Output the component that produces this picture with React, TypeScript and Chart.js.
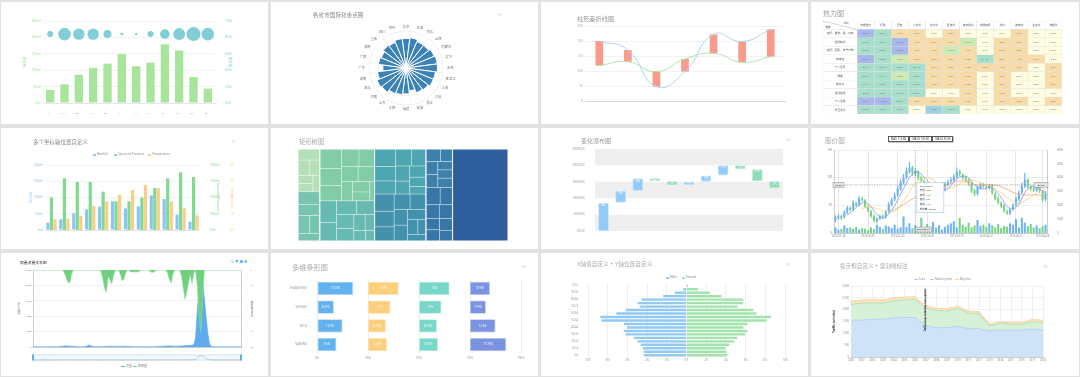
import React, { useEffect, useRef } from "react";
import { Chart, registerables } from "chart.js";
Chart.register(...registerables);

const FONT = "'Noto Sans','Noto Sans CJK SC',sans-serif";
Chart.defaults.font.family = FONT;
Chart.defaults.font.size = 4;
Chart.defaults.color = "#999";

// ---------- DATA ----------
// Chart 1: rainfall bars + evaporation bubbles
const monthsEn = ["Jan", "Feb", "Mar", "Apr", "May", "Jun", "Jul", "Aug", "Sep", "Oct", "Nov", "Dec"];
const c1Rainfall = [40, 57, 86, 107, 120, 149, 112, 123, 179, 160, 79, 44];
const c1Evaporation = [9, 40, 33, 33, 16, 2, 1.5, 9, 23, 36, 49, 40];
const c1BubbleRow = 210;

// Chart 2: rose chart
const roseLabels = ["北京", "天津", "河北", "山西", "内蒙古", "辽宁", "吉林", "黑龙江", "上海", "江苏", "浙江", "安徽", "福建", "江西", "山东", "河南", "湖北", "湖南", "广东", "广西", "海南", "重庆", "四川", "贵州"];
const roseValues = [32, 33, 31, 31, 33, 34, 34, 32, 32, 30, 29, 25, 28, 29, 30, 33, 34, 31, 25, 30, 29, 31, 30, 32];

// Chart 3: difference line chart
const weekLabels = ["星期一", "星期二", "星期三", "星期四", "星期五", "星期六", "星期日"];
const c3Upper = [200, 170, 48, 98, 222, 198, 239];
const c3Lower = [118, 131, 98, 140, 159, 129, 148];

// Chart 4: heat table
const heatCols = ["地理信息", "行政", "历史", "人文学", "社会学", "区域学", "城市规划", "地质勘探", "测绘", "建筑学", "生态学", "地理学"];
const heatRows = ["空间、概念、是、感知", "空间知识", "空间、图形、符号产物", "实体性", "个人经历", "原理", "数字化", "空间描述", "个人经验", "交互设计"];
const heatValues = [
  [63.9, 30.5, 3.8, 5.0, 0, 5.0, 0, 0, 0, 2.5, 0, 0],
  [28.6, 32.1, 55.8, 1.3, 3.8, 3.9, 12.5, 0, 3.8, 2.5, 0, 0],
  [35.0, 35.0, 58.8, 4.5, 1.3, 17.5, 4.5, 0, 5.0, 3.8, 0, 0],
  [57.5, 26.3, 17.5, 3.0, 3.0, 5.0, 5.0, 21.3, 3.8, 1.3, 2.5, 0],
  [28.1, 26.4, 25.8, 25.4, 2.5, 5.0, 2.5, 2.5, 1.3, 2.5, 0, 2.5],
  [38.7, 35.1, 15.0, 30.0, 2.5, 3.8, 2.5, 0, 5.0, 0, 0, 2.5],
  [27.1, 26.0, 25.3, 35.0, 1.3, 1.7, 2.5, 0, 2.5, 0, 0, 2.5],
  [28.0, 23.0, 25.7, 30.0, 0, 0, 2.5, 0, 1.3, 0, 0, 0],
  [52.5, 51.3, 33.8, 2.5, 3.8, 5.0, 5.0, 0, 2.5, 2.5, 0, 3.8],
  [33.8, 27.5, 36.3, 0, 45.0, 27.5, 0, 0, 0, 0, 0, 0],
];

// Chart 5: multiple axes
const c5Rainfall = [45, 66, 103, 127, 144, 176, 133, 146, 213, 191, 94, 51];
const c5Pressure = [1000, 1590, 1475, 1475, 1180, 880, 880, 1000, 1290, 1590, 1775, 1630];
const c5Temperature = [6.6, 7, 8.6, 14.8, 17.6, 21.7, 24.6, 27.7, 25.8, 17.6, 13.5, 9];

// Chart 6: treemap (groups -> subgroups -> leaves)
const treeGroups = [
  [[8, 6, 5, 4, 4, 3.7], [9, 8, 7, 6, 5.3]],
  [[14, 12, 11, 10, 9, 8, 8, 7, 6, 5, 3], [12, 10, 9, 8, 8, 7, 6, 5, 4, 3]],
  [[12, 10, 9, 9, 8, 7, 6, 6, 5, 4], [11, 10, 9, 8, 8, 7, 7, 6, 5, 4, 4]],
  [[6, 5, 5, 5, 4, 4, 4.5], [8, 7, 6, 6, 5, 5, 5, 4.5]],
  [[167]],
];

// Chart 7: waterfall
const wfYears = ["2009年", "2010年", "2011年", "2012年", "2013年", "2014年", "2015年", "2016年", "2017年", "2018年", "2019年"];
const wfChanges = [865, 360, 380, -85, -125, 110, 190, 310, -120, -370, -215];

// Chart 8: stock
const stockOpen = [24, 27, 31, 29, 37, 46, 43, 54, 51, 62, 59, 47, 39, 31, 21, 26, 31, 29, 39, 51, 61, 69, 79, 91, 101, 111, 119, 107, 111, 101, 94, 89, 83, 71, 77, 67, 71, 79, 87, 93, 95, 101, 111, 105, 101, 96, 89, 77, 71, 81, 87, 83, 81, 86, 71, 63, 54, 49, 39, 35, 43, 51, 61, 73, 84, 97, 83, 81, 77, 83, 75, 61];
const stockClose = [28, 30, 26, 38, 45, 42, 55, 50, 63, 60, 48, 40, 30, 22, 25, 30, 28, 38, 52, 60, 68, 80, 92, 100, 112, 118, 108, 112, 100, 95, 88, 84, 70, 78, 66, 72, 80, 88, 92, 96, 102, 110, 106, 100, 95, 90, 76, 70, 82, 86, 84, 82, 85, 72, 62, 55, 48, 40, 36, 42, 50, 62, 72, 85, 96, 84, 80, 78, 82, 76, 60, 72];
const stockHigh = [31, 33, 32, 40, 48, 47, 58, 56, 66, 65, 61, 49, 41, 33, 28, 33, 33, 41, 55, 63, 72, 85, 96, 106, 118, 128, 121, 116, 113, 103, 96, 91, 85, 80, 79, 75, 83, 92, 95, 100, 106, 118, 114, 108, 103, 98, 91, 80, 85, 90, 90, 86, 88, 88, 74, 66, 57, 52, 42, 45, 53, 66, 76, 90, 108, 98, 86, 84, 86, 85, 77, 75];
const stockLow = [20, 24, 24, 27, 35, 40, 41, 48, 49, 57, 46, 38, 28, 20, 18, 24, 26, 27, 37, 49, 58, 66, 77, 88, 98, 108, 104, 104, 97, 92, 85, 80, 67, 69, 63, 65, 69, 77, 85, 90, 93, 99, 103, 97, 92, 86, 73, 67, 68, 79, 82, 79, 79, 70, 60, 52, 46, 37, 33, 33, 41, 48, 58, 70, 82, 81, 77, 75, 75, 73, 57, 58];
const stockVolume = [40, 25, 30, 55, 35, 40, 30, 45, 25, 35, 30, 20, 40, 28, 60, 45, 30, 55, 48, 35, 60, 30, 40, 120, 45, 70, 35, 55, 40, 110, 30, 65, 45, 80, 40, 55, 25, 45, 60, 70, 85, 40, 110, 60, 45, 75, 40, 55, 95, 50, 60, 45, 70, 55, 40, 65, 35, 50, 45, 70, 60, 100, 40, 110, 75, 50, 65, 40, 55, 35, 50, 60];
const stockTickIdx = [1, 11, 21, 31, 41, 51, 61, 70];
const stockTickLabels = ["2013-01-24", "2013-02-05", "2013-02-20", "2013-03-06", "2013-03-19", "2013-04-01", "2013-04-15", "2013-04-26"];
const stockCrossIndex = 27;
const stockCrossPrice = 87;
const stockCrossDate = "2013-03-01";
const stockMALegend = ["MA5: 112.88", "MA10: 105.66", "MA20: 95.06"];

// Chart 9: rainfall vs flow
const flowSeries = [
  5, 5, 5, 5, 5, 6, 6, 6, 6, 8,
  8, 8, 10, 10, 12, 15, 20, 28, 32, 35,
  30, 28, 25, 22, 18, 12, 8, 6, 6, 8,
  15, 35, 65, 45, 20, 10, 8, 8, 8, 10,
  12, 15, 18, 20, 22, 22, 20, 20, 18, 18,
  20, 22, 22, 20, 18, 15, 15, 12, 12, 10,
  10, 10, 8, 8, 8, 8, 8, 10, 10, 12,
  12, 15, 18, 20, 22, 25, 28, 30, 32, 30,
  28, 25, 25, 28, 30, 32, 35, 40, 45, 50,
  55, 60, 80, 300, 1200, 1900, 2200, 2150, 1600, 1000,
  450, 100, 20, 10, 8, 6, 5, 5, 5, 5,
  5, 5, 5, 5, 5, 5, 5, 5, 5, 5,
];
const rainSeries = [
  0, 0, 0, 0, 0, 0, 0, 0, 0, 0,
  0, 0, 0, 0, 0, 0, 0, 0, 2, 5,
  8, 8.5, 3, 0, 0, 0, 0, 0, 0, 0,
  0, 0, 0, 0, 0, 0, 0, 0, 0, 1,
  6, 12, 14.6, 4, 6, 9, 4, 0, 0, 0,
  3, 7, 6, 2, 0, 0, 1.5, 1, 1.5, 1,
  1.5, 0.5, 0, 0, 0, 0, 0, 1, 1.5, 1.5,
  0.5, 0, 0, 0, 0, 0, 0, 2, 6, 8.5,
  3, 0, 0, 0, 0, 4, 12, 19, 14, 8,
  3, 8.7, 2, 0, 10, 30, 40.6, 20, 0, 0,
  0, 0, 0, 0, 0, 0, 0, 0, 0, 0,
  0, 0, 0, 0, 0, 0, 0, 0, 0, 0,
];
const flowDates = ["2009-06-12", "2009-06-22", "2009-07-02", "2009-07-12", "2009-07-22", "2009-08-01", "2009-08-11", "2009-08-21", "2009-08-31", "2009-09-10", "2009-09-20", "2009-09-30"];

// Chart 10: multi-grid bars
const cityLabels = ["CHANGZHOU", "SUZHOU", "WUXI", "NANJING"];
const cityS1 = [17.75, 8.25, 12.5, 9.5];
const cityS2 = [15, 11, 8.75, 9.25];
const cityS3 = [15, 11, 8.75, 9.25];
const cityS4 = [9.75, 7.75, 12.5, 17.75];

// Chart 11: population pyramid
const ageGroups = ["100+", "95-99", "90-94", "85-89", "80-84", "75-79", "70-74", "65-69", "60-64", "55-59", "50-54", "45-49", "40-44", "35-39", "30-34", "25-29", "20-24", "15-19", "10-14", "5-9", "0-4"];
const maleShare = [0, 0.34, 1.19, 2.37, 4.58, 4.98, 4.75, 6.17, 7.12, 8.75, 8.64, 6.34, 6.03, 6.37, 6.17, 5.36, 4.98, 4.64, 4.41, 4.34, 4.34];
const femaleShare = [0.17, 1.15, 2.37, 3.56, 5.76, 5.76, 5.19, 6.78, 7.12, 8.58, 8.14, 6.17, 5.76, 6.17, 5.93, 5.15, 4.85, 4.34, 3.93, 4.07, 4.14];

// Chart 12: stacked traffic area
const trafficYears = ["2000", "2001", "2002", "2003", "2004", "2005", "2006", "2007", "2008", "2009", "2010", "2011", "2012", "2013", "2014", "2015", "2016", "2017", "2018"];
const trafficCars = [1549, 1560, 1592, 1590, 1662, 1665, 1676, 1310, 1239, 1240, 1296, 1197, 1197, 1099, 1141, 1141, 1141, 1169, 1141];
const trafficMoto = [676, 708, 704, 678, 704, 743, 761, 746, 733, 704, 760, 662, 634, 211, 282, 239, 239, 324, 310];
const trafficBikes = [141, 140, 141, 140, 127, 127, 112, 99, 84, 98, 99, 85, 85, 70, 70, 85, 71, 99, 98];
const trafficMarkerIndex = 7;
const trafficMarkerText = "Traffic drop - new ring road opened";

// ---------- HELPERS ----------
const fixW = (w: number) => (s: any) => { s.width = w; };
const fixH = (h: number) => (s: any) => { s.height = h; };
const noLegend = { legend: { display: false }, tooltip: { enabled: false } };
const baseOpts = { responsive: false, animation: false };

const heatColor = (v: number) =>
  v >= 50 ? "#a8b8e9" : v >= 40 ? "#9ed2e0" : v >= 20 ? "#a8dfca" : v >= 10 ? "#cdeab6" : v > 0 ? "#f7dcaa" : "#fefde2";

type R = { x: number; y: number; w: number; h: number };
function squarify(vals: number[], rect: R): R[] {
  const total = vals.reduce((a, b) => a + b, 0);
  const k = (rect.w * rect.h) / total;
  const areas = vals.map((v) => v * k);
  const out: R[] = [];
  let r = { ...rect };
  let row: number[] = [];
  const worst = (rw: number[], side: number) => {
    const s = rw.reduce((a, b) => a + b, 0);
    const mx = Math.max(...rw), mn = Math.min(...rw);
    return Math.max((side * side * mx) / (s * s), (s * s) / (side * side * mn));
  };
  const flush = () => {
    const s = row.reduce((a, b) => a + b, 0);
    if (r.w >= r.h) {
      const cw = s / r.h;
      let yy = r.y;
      row.forEach((a) => { const hh = a / cw; out.push({ x: r.x, y: yy, w: cw, h: hh }); yy += hh; });
      r = { x: r.x + cw, y: r.y, w: r.w - cw, h: r.h };
    } else {
      const rh = s / r.w;
      let xx = r.x;
      row.forEach((a) => { const ww = a / rh; out.push({ x: xx, y: r.y, w: ww, h: rh }); xx += ww; });
      r = { x: r.x, y: r.y + rh, w: r.w, h: r.h - rh };
    }
    row = [];
  };
  let i = 0;
  while (i < areas.length) {
    const side = Math.min(r.w, r.h);
    if (row.length === 0 || worst([...row, areas[i]], side) <= worst(row, side)) { row.push(areas[i]); i++; }
    else flush();
  }
  if (row.length) flush();
  return out;
}

// ---------- CHART CONFIGS ----------
function cfg1() {
  return {
    type: "bar",
    data: {
      labels: monthsEn,
      datasets: [
        { type: "line", data: monthsEn.map(() => c1BubbleRow), showLine: false, pointRadius: c1Evaporation.map((v) => Math.sqrt(v)), pointBackgroundColor: "#82ced6", pointBorderWidth: 0, order: 0 },
        { type: "bar", data: c1Rainfall, backgroundColor: "#a9e49d", barPercentage: 0.58, categoryPercentage: 1, order: 1 },
      ],
    },
    options: {
      ...baseOpts,
      layout: { padding: { left: 22, right: 36, top: 19, bottom: 10 } },
      plugins: noLegend,
      scales: {
        x: { grid: { display: false }, border: { color: "#e6e6e6" }, ticks: { autoSkip: false, font: { size: 3.5 }, color: "#888", padding: 2, maxRotation: 0 }, afterFit: fixH(11) },
        y: { min: 0, max: 250, ticks: { stepSize: 50, callback: (v: any) => v + "ml", font: { size: 3.2 }, color: "#a6df98", padding: 2 }, grid: { color: "#f2f2f2", drawTicks: false }, border: { display: false }, title: { display: true, text: "降水量", color: "#a6df98", font: { size: 3.5 }, padding: 0 }, afterFit: fixW(20) },
        y1: { position: "right", min: 0, max: 1000, ticks: { stepSize: 200, callback: (v: any) => v + "ml", font: { size: 3.2 }, color: "#86d0d8", padding: 2 }, grid: { display: false }, border: { display: false }, title: { display: true, text: "蒸发量", color: "#86d0d8", font: { size: 3.5 }, padding: 0 }, afterFit: fixW(17) },
      },
    },
  };
}

function cfg2() {
  const labelPlugin = {
    id: "roseLabels",
    afterDraw(chart: any) {
      const s = chart.scales.r;
      const ctx = chart.ctx;
      ctx.save();
      ctx.font = `3.3px ${FONT}`;
      ctx.fillStyle = "#777";
      ctx.textBaseline = "middle";
      roseLabels.forEach((l, i) => {
        const p = s.getPointPosition(i + 0.5, s.drawingArea + 4);
        ctx.textAlign = p.x < s.xCenter - 3 ? "right" : p.x > s.xCenter + 3 ? "left" : "center";
        ctx.fillText(l, p.x, p.y);
      });
      ctx.restore();
    },
  };
  return {
    type: "polarArea",
    data: { labels: roseLabels, datasets: [{ data: roseValues, backgroundColor: "#3b82b7", borderColor: "#ffffff", borderWidth: 1 }] },
    options: {
      ...baseOpts,
      layout: { padding: { left: 98, right: 95, top: 29, bottom: 19 } },
      plugins: noLegend,
      scales: {
        r: { min: 0, max: 40, startAngle: -7.5, ticks: { display: false, stepSize: 10 }, grid: { color: "#e2e2e2", lineWidth: 0.5 }, angleLines: { display: true, color: "#ededed", lineWidth: 0.5 }, pointLabels: { display: false } },
      },
    },
    plugins: [labelPlugin],
  };
}

function cfg3() {
  return {
    type: "bar",
    data: {
      labels: weekLabels,
      datasets: [
        { type: "line", data: c3Upper, borderColor: "#a8d4f6", borderWidth: 1, pointRadius: 0, tension: 0.5, order: 0 },
        { type: "line", data: c3Lower, borderColor: "#ade5ad", borderWidth: 1, pointRadius: 0, tension: 0.5, order: 0 },
        { type: "bar", data: c3Upper.map((u, i) => [c3Lower[i], u]), backgroundColor: "#f89b8d", barPercentage: 0.27, categoryPercentage: 1, order: 1 },
      ],
    },
    options: {
      ...baseOpts,
      layout: { padding: { left: 20, right: 23, top: 24, bottom: 15 } },
      plugins: noLegend,
      scales: {
        x: { grid: { display: false }, border: { color: "#ddd" }, ticks: { autoSkip: false, font: { size: 3 }, color: "#999", padding: 2, maxRotation: 0 }, afterFit: fixH(8) },
        y: { min: 0, max: 250, ticks: { stepSize: 50, font: { size: 3 }, color: "#aaa", padding: 2 }, grid: { color: "#f2f2f2", drawTicks: false }, border: { display: false }, afterFit: fixW(24) },
      },
    },
  };
}

function cfg4() {
  const rowLabels = ["", ...heatRows];
  const nCols = heatCols.length + 1;
  const datasets = Array.from({ length: nCols }, (_, j) => ({
    data: rowLabels.map(() => (j === 0 ? 2 : 1)),
    backgroundColor: (c: any) => (c.dataIndex === 0 || j === 0 ? "#ffffff" : heatColor(heatValues[c.dataIndex - 1][j - 1])),
    borderColor: "#e2e2e2",
    borderWidth: 0.5,
    borderSkipped: false,
    barPercentage: 1,
    categoryPercentage: 1,
  }));
  const textPlugin = {
    id: "heatText",
    afterDatasetsDraw(chart: any) {
      const ctx = chart.ctx;
      ctx.save();
      ctx.textAlign = "center";
      ctx.textBaseline = "middle";
      chart.data.datasets.forEach((_: any, j: number) => {
        chart.getDatasetMeta(j).data.forEach((el: any, r: number) => {
          const p = el.getProps(["x", "y", "base", "height"], true);
          const cx = (p.x + p.base) / 2;
          if (r === 0 && j === 0) {
            ctx.strokeStyle = "#999";
            ctx.lineWidth = 0.4;
            ctx.beginPath();
            ctx.moveTo(p.base, p.y - p.height / 2);
            ctx.lineTo(p.x, p.y + p.height / 2);
            ctx.stroke();
            ctx.font = `2.6px ${FONT}`;
            ctx.fillStyle = "#555";
            ctx.fillText("学科", cx + 6, p.y - 1.6);
            ctx.fillText("维度", p.base + 5, p.y + 1.8);
            return;
          }
          let text = "";
          if (r === 0) { text = heatCols[j - 1]; ctx.fillStyle = "#555"; ctx.font = `2.7px ${FONT}`; }
          else if (j === 0) { text = heatRows[r - 1]; ctx.fillStyle = "#555"; ctx.font = `2.7px ${FONT}`; }
          else { text = heatValues[r - 1][j - 1].toFixed(1) + "%"; ctx.fillStyle = "#777"; ctx.font = `2.5px ${FONT}`; }
          ctx.fillText(text, cx, p.y);
        });
      });
      ctx.restore();
    },
  };
  return {
    type: "bar",
    data: { labels: rowLabels, datasets },
    options: {
      ...baseOpts,
      indexAxis: "y",
      layout: { padding: { left: 12, right: 17, top: 19, bottom: 10 } },
      plugins: noLegend,
      scales: {
        x: { stacked: true, min: 0, max: 14, display: false },
        y: { stacked: true, display: false },
      },
    },
    plugins: [textPlugin],
  };
}

function cfg5() {
  const bar = { barPercentage: 0.9, categoryPercentage: 0.82 };
  return {
    type: "bar",
    data: {
      labels: monthsEn,
      datasets: [
        { data: c5Rainfall, backgroundColor: "#8cc5f5", yAxisID: "y", ...bar },
        { data: c5Pressure, backgroundColor: "#7fd98f", yAxisID: "y1", ...bar },
        { data: c5Temperature, backgroundColor: "#fbcd88", yAxisID: "y2", ...bar },
      ],
    },
    options: {
      ...baseOpts,
      layout: { padding: { left: 28, right: 34, top: 37, bottom: 11 } },
      plugins: noLegend,
      scales: {
        x: { grid: { display: false }, border: { color: "#e3e3e3" }, ticks: { autoSkip: false, font: { size: 3.3 }, color: "#999", padding: 2, maxRotation: 0 }, afterFit: fixH(8) },
        y: { min: 0, max: 400, ticks: { stepSize: 100, callback: (v: any) => v + "ml", font: { size: 3 }, color: "#8cc5f5", padding: 2 }, grid: { color: "#f2f2f2", drawTicks: false }, border: { display: false }, title: { display: true, text: "Rainfall", color: "#8cc5f5", font: { size: 3.3 }, padding: 0 }, afterFit: fixW(16) },
        y1: { position: "right", min: 0, max: 2000, ticks: { stepSize: 500, callback: (v: any) => v + "ml", font: { size: 3 }, color: "#7fd98f", padding: 2 }, grid: { display: false }, border: { display: false }, title: { display: true, text: "Sea-Level Pressure", color: "#7fd98f", font: { size: 3.3 }, padding: 0 }, afterFit: fixW(20) },
        y2: { position: "right", min: 0, max: 40, ticks: { stepSize: 10, callback: (v: any) => v + "°C", font: { size: 3 }, color: "#fbcd88", padding: 2 }, grid: { display: false }, border: { display: false }, title: { display: true, text: "Temperature", color: "#fbcd88", font: { size: 3.3 }, padding: 0 }, afterFit: fixW(14) },
      },
    },
  };
}

function cfg6() {
  const colors = [["#b3e0b6", "#77c5b0"], ["#82cca8", "#66bab2"], ["#4da6b1", "#4291ad"], ["#3c80ab", "#3776a7"], ["#2e5e9b"]];
  const sum = (a: number[]) => a.reduce((x, y) => x + y, 0);
  const plugin = {
    id: "treemap",
    afterDatasetsDraw(chart: any) {
      const { ctx, chartArea: a, scales } = chart;
      const sx = scales.x, sy = scales.y;
      const W = a.right - a.left, H = a.bottom - a.top;
      const gTotals = treeGroups.map((g) => g.reduce((s, sub) => s + sum(sub), 0));
      const total = sum(gTotals);
      ctx.save();
      let gx = 0;
      treeGroups.forEach((g, gi) => {
        const gw = gTotals[gi] / total;
        let syv = 0;
        g.forEach((sub, si) => {
          const sh = sum(sub) / gTotals[gi];
          const rects = squarify(sub, { x: gx * W, y: syv * H, w: gw * W, h: sh * H });
          rects.forEach((r) => {
            const x0 = sx.getPixelForValue(r.x / W), x1 = sx.getPixelForValue((r.x + r.w) / W);
            const y0 = sy.getPixelForValue(r.y / H), y1 = sy.getPixelForValue((r.y + r.h) / H);
            ctx.fillStyle = colors[gi][si];
            ctx.fillRect(x0, y0, x1 - x0, y1 - y0);
            ctx.strokeStyle = "rgba(255,255,255,0.45)";
            ctx.lineWidth = 0.7;
            ctx.strokeRect(x0, y0, x1 - x0, y1 - y0);
          });
          syv += sh;
        });
        const gx0 = sx.getPixelForValue(gx), gx1 = sx.getPixelForValue(gx + gw);
        ctx.strokeStyle = "rgba(255,255,255,0.8)";
        ctx.lineWidth = 1;
        ctx.strokeRect(gx0, a.top, gx1 - gx0, H);
        gx += gw;
      });
      ctx.restore();
    },
  };
  return {
    type: "scatter",
    data: { datasets: [{ data: [] }] },
    options: {
      ...baseOpts,
      layout: { padding: { left: 27, right: 30, top: 21, bottom: 8 } },
      plugins: noLegend,
      scales: { x: { min: 0, max: 1, display: false }, y: { min: 0, max: 1, reverse: true, display: false } },
    },
    plugins: [plugin],
  };
}

function cfg7() {
  let acc = 0;
  const floats = wfChanges.map((d) => { const s = acc; acc += d; return [s, acc]; });
  const bands = {
    id: "bands",
    beforeDatasetsDraw(chart: any) {
      const { ctx, chartArea: a, scales } = chart;
      const y = scales.y;
      ctx.save();
      ctx.fillStyle = "#efefef";
      for (let i = 0; i < y.ticks.length - 1; i += 2) {
        const p0 = y.getPixelForValue(y.ticks[i].value), p1 = y.getPixelForValue(y.ticks[i + 1].value);
        ctx.fillRect(a.left, p1, a.right - a.left, p0 - p1);
      }
      ctx.restore();
    },
  };
  const labels = {
    id: "wfLabels",
    afterDatasetsDraw(chart: any) {
      const ctx = chart.ctx;
      ctx.save();
      ctx.font = `2.6px ${FONT}`;
      ctx.fillStyle = "#fff";
      ctx.textAlign = "center";
      ctx.textBaseline = "middle";
      chart.getDatasetMeta(0).data.forEach((el: any, i: number) => {
        const p = el.getProps(["x", "y", "base"], true);
        const top = Math.min(p.y, p.base);
        ctx.fillText(String(Math.abs(wfChanges[i])), p.x, top + 2.5);
      });
      ctx.restore();
    },
  };
  return {
    type: "bar",
    data: {
      labels: wfYears,
      datasets: [{
        data: floats,
        backgroundColor: wfChanges.map((d) => (d >= 0 ? "#92cbf8" : "#8ddbb9")),
        borderColor: wfChanges.map((d) => (d >= 0 ? "#bfe0fb" : "#b8ebd3")),
        borderWidth: 0.8, borderRadius: 1.5, borderSkipped: false, barPercentage: 0.62, categoryPercentage: 1,
      }],
    },
    options: {
      ...baseOpts,
      layout: { padding: { left: 30, right: 25, top: 21, bottom: 10 } },
      plugins: noLegend,
      scales: {
        x: { grid: { display: false }, border: { display: false }, ticks: { autoSkip: false, font: { size: 3 }, color: "#999", padding: 2, maxRotation: 0 }, afterFit: fixH(8) },
        y: { min: 0, max: 2500, ticks: { stepSize: 500, callback: (v: any) => v + "亿元", font: { size: 3 }, color: "#999", padding: 2 }, grid: { display: false }, border: { display: false }, afterFit: fixW(24) },
      },
    },
    plugins: [bands, labels],
  };
}

function cfg8() {
  const idx = stockClose.map((_, i) => i);
  const up = (i: number) => stockClose[i] >= stockOpen[i];
  const col = idx.map((i) => (up(i) ? "#6fb4f2" : "#78d484"));
  const ma = (n: number) => stockClose.map((_, i) => (i < n - 1 ? null : stockClose.slice(i - n + 1, i + 1).reduce((a, b) => a + b, 0) / n));
  const line = { type: "line", pointRadius: 0, borderWidth: 0.8, tension: 0.3, yAxisID: "y", order: 0 };
  const cross = {
    id: "stockCross",
    afterDraw(chart: any) {
      const { ctx, chartArea: a, scales } = chart;
      const px = scales.x.getPixelForValue(stockCrossIndex), py = scales.y.getPixelForValue(stockCrossPrice);
      ctx.save();
      ctx.strokeStyle = "#777";
      ctx.lineWidth = 0.5;
      ctx.setLineDash([1.5, 1]);
      ctx.beginPath();
      ctx.moveTo(a.left, py); ctx.lineTo(a.right, py);
      ctx.moveTo(px, a.top); ctx.lineTo(px, a.bottom);
      ctx.stroke();
      ctx.setLineDash([]);
      const box = (bx: number, by: number, w: number, h: number, t: string) => {
        ctx.fillStyle = "#e2e2e2"; ctx.strokeStyle = "#777"; ctx.lineWidth = 0.4;
        ctx.fillRect(bx, by, w, h); ctx.strokeRect(bx, by, w, h);
        ctx.fillStyle = "#333"; ctx.font = `2.5px ${FONT}`; ctx.textAlign = "center"; ctx.textBaseline = "middle";
        ctx.fillText(t, bx + w / 2, by + h / 2);
      };
      box(a.left - 1, py - 2.5, 11, 5, stockCrossPrice.toFixed(2));
      box(a.right - 13, py - 2.5, 14, 5, stockCrossPrice.toFixed(2));
      box(px, a.bottom - 6, 16, 5, stockCrossDate);
      const i = stockCrossIndex;
      const lines = [stockCrossDate, "开盘: " + stockOpen[i], "收盘: " + stockClose[i], "最低: " + stockLow[i], "最高: " + stockHigh[i], "成交量: " + stockVolume[i] * 1000];
      const tx = px + 1.5, ty = py - 2.5, tw = 27, th = 30;
      ctx.fillStyle = "rgba(255,255,255,0.95)"; ctx.strokeStyle = "#9cc8ee"; ctx.lineWidth = 0.6;
      ctx.fillRect(tx, ty, tw, th); ctx.strokeRect(tx, ty, tw, th);
      ctx.fillStyle = "#444"; ctx.font = `2.5px ${FONT}`; ctx.textAlign = "left"; ctx.textBaseline = "middle";
      lines.forEach((l, k) => ctx.fillText(l, tx + 3, ty + 3.5 + k * 4.6));
      ctx.restore();
    },
  };
  return {
    type: "bar",
    data: {
      labels: idx,
      datasets: [
        { ...line, data: ma(5), borderColor: "#8c8ff2" },
        { ...line, data: ma(10), borderColor: "#f6d36f" },
        { ...line, data: ma(20), borderColor: "#f4a571" },
        { data: idx.map((i) => [stockLow[i], stockHigh[i]]), backgroundColor: col, barThickness: 0.6, grouped: false, yAxisID: "y", order: 2 },
        { data: idx.map((i) => [stockOpen[i], stockClose[i]]), backgroundColor: col, barPercentage: 0.7, categoryPercentage: 1, grouped: false, yAxisID: "y", order: 1 },
        { data: stockVolume, backgroundColor: col, barPercentage: 0.7, categoryPercentage: 1, grouped: false, yAxisID: "y1", order: 3 },
      ],
    },
    options: {
      ...baseOpts,
      layout: { padding: { left: 8, right: 16, top: 22, bottom: 9 } },
      plugins: noLegend,
      scales: {
        x: {
          grid: { offset: false, color: (c: any) => (stockTickIdx.includes(c.index) ? "#e6e6e6" : "rgba(0,0,0,0)"), drawTicks: false },
          border: { color: "#ccc" },
          ticks: { autoSkip: false, maxRotation: 0, font: { size: 2.6 }, color: "#888", padding: 2, callback: (v: any, i: number) => { const k = stockTickIdx.indexOf(i); return k >= 0 ? stockTickLabels[k] : ""; } },
          afterFit: fixH(7),
        },
        y: { min: 0, max: 150, ticks: { stepSize: 50, font: { size: 2.8 }, color: "#888", padding: 2 }, grid: { color: "#eeeeee", drawTicks: false }, border: { color: "#ccc" }, afterFit: fixW(15) },
        y1: { position: "right", min: 0, max: 600, ticks: { stepSize: 100, callback: (v: any) => String(v * 1000), font: { size: 2.6 }, color: "#888", padding: 2 }, grid: { display: false }, border: { color: "#ccc" }, afterFit: fixW(16) },
      },
    },
    plugins: [cross],
  };
}

function cfg9() {
  const idx = flowSeries.map((_, i) => i);
  const slider = {
    id: "slider",
    afterDraw(chart: any) {
      const { ctx, chartArea: a, scales } = chart;
      const x = scales.x;
      const top = a.bottom + 8, h = 5;
      ctx.save();
      ctx.fillStyle = "rgba(160,205,245,0.12)";
      ctx.fillRect(a.left, top, a.right - a.left, h);
      ctx.strokeStyle = "#a9d2f5"; ctx.lineWidth = 0.6;
      ctx.strokeRect(a.left, top, a.right - a.left, h);
      ctx.beginPath();
      flowSeries.forEach((v, i) => {
        const px = x.getPixelForValue(i), py = top + h - (v / 2500) * h * 0.95;
        if (i === 0) ctx.moveTo(px, py); else ctx.lineTo(px, py);
      });
      ctx.strokeStyle = "#888"; ctx.lineWidth = 0.4; ctx.stroke();
      ctx.fillStyle = "#5aaef2";
      ctx.fillRect(a.left - 1, top - 0.5, 2, h + 1);
      ctx.fillRect(a.right - 1, top - 0.5, 2, h + 1);
      ctx.restore();
    },
  };
  return {
    type: "line",
    data: {
      labels: idx,
      datasets: [
        { data: rainSeries, borderColor: "#8ddb98", backgroundColor: "#6fd07e", fill: "origin", borderWidth: 0.6, pointRadius: 0, yAxisID: "y1" },
        { data: flowSeries, borderColor: "#5aa8ee", backgroundColor: "#5eacef", fill: "origin", borderWidth: 0.6, pointRadius: 0, yAxisID: "y" },
      ],
    },
    options: {
      ...baseOpts,
      layout: { padding: { left: 17, right: 15, top: 17, bottom: 23 } },
      plugins: noLegend,
      scales: {
        x: { grid: { display: false }, border: { color: "#ccc" }, ticks: { autoSkip: false, maxRotation: 0, font: { size: 2.5 }, color: "#888", padding: 1.5, callback: (v: any, i: number) => (i % 10 === 0 ? flowDates[i / 10] : "") }, afterFit: fixH(6) },
        y: { min: 0, max: 2500, ticks: { stepSize: 500, font: { size: 2.5 }, color: "#888", padding: 1.5 }, grid: { color: "#f2f2f2", drawTicks: false }, border: { color: "#ccc" }, title: { display: true, text: "流量(m³/s)", font: { size: 2.7 }, color: "#777", padding: 0 }, afterFit: fixW(15) },
        y1: { position: "right", reverse: true, min: 0, max: 50, ticks: { stepSize: 10, font: { size: 2.5 }, color: "#888", padding: 1.5 }, grid: { display: false }, border: { color: "#ccc" }, title: { display: true, text: "降雨量(mm)", font: { size: 2.7 }, color: "#777", padding: 0 }, afterFit: fixW(12) },
      },
    },
    plugins: [slider],
  };
}

function cfg10() {
  const series = [cityS1, cityS2, cityS3, cityS4];
  const fills = ["#62b2ef", "#fbcf7c", "#79d7c9", "#7b93e0"];
  const borders = ["#a6d4f7", "#fde3b0", "#b4eae1", "#b2c0ee"];
  const labels = {
    id: "barLabels",
    afterDatasetsDraw(chart: any) {
      const ctx = chart.ctx;
      ctx.save();
      ctx.font = `2.8px ${FONT}`; ctx.fillStyle = "#fff"; ctx.textAlign = "center"; ctx.textBaseline = "middle";
      series.forEach((s, k) => {
        chart.getDatasetMeta(k).data.forEach((el: any, i: number) => {
          const p = el.getProps(["x", "y", "base"], true);
          ctx.fillText(s[i] + "%", (p.x + p.base) / 2, p.y);
        });
      });
      ctx.restore();
    },
  };
  return {
    type: "bar",
    data: {
      labels: cityLabels,
      datasets: series.map((s, k) => ({
        data: s.map((v) => [k * 25, k * 25 + v]),
        backgroundColor: fills[k], borderColor: borders[k], borderWidth: 0.8, borderRadius: 1, borderSkipped: false,
        grouped: false, barPercentage: 0.7, categoryPercentage: 1,
      })),
    },
    options: {
      ...baseOpts,
      indexAxis: "y",
      layout: { padding: { left: 0, right: 17, top: 26, bottom: 14 } },
      plugins: noLegend,
      scales: {
        x: { min: 0, max: 100, ticks: { stepSize: 25, callback: (v: any) => v + "%", font: { size: 3 }, color: "#999", padding: 2 }, grid: { color: "#eeeeee", drawTicks: false }, border: { display: false }, afterFit: fixH(8) },
        y: { grid: { display: false }, border: { display: false }, ticks: { autoSkip: false, font: { size: 2.8 }, color: "#999", padding: 2 }, afterFit: fixW(46) },
      },
    },
    plugins: [labels],
  };
}

function cfg11() {
  return {
    type: "bar",
    data: {
      labels: ageGroups,
      datasets: [
        { data: maleShare.map((v) => -v), backgroundColor: "#93c9f5", barPercentage: 0.7, categoryPercentage: 1 },
        { data: femaleShare, backgroundColor: "#a2e3ab", barPercentage: 0.7, categoryPercentage: 1 },
      ],
    },
    options: {
      ...baseOpts,
      indexAxis: "y",
      layout: { padding: { left: 20, right: 23, top: 31, bottom: 11 } },
      plugins: noLegend,
      scales: {
        x: { stacked: true, min: -10, max: 10, ticks: { stepSize: 2, callback: (v: any) => Math.abs(v) + "%", font: { size: 2.8 }, color: "#999", padding: 2 }, grid: { color: "#eeeeee", drawTicks: false }, border: { display: false }, afterFit: fixH(8) },
        y: { stacked: true, grid: { display: false }, border: { display: false }, ticks: { autoSkip: false, font: { size: 2.6 }, color: "#999", padding: 2, callback: (v: any, i: number) => (i % 2 === 0 ? ageGroups[i] : "") }, afterFit: fixW(27) },
      },
    },
  };
}

function cfg12() {
  const marker = {
    id: "marker",
    afterDatasetsDraw(chart: any) {
      const { ctx, chartArea: a, scales } = chart;
      const px = scales.x.getPixelForValue(trafficMarkerIndex);
      const y0 = a.top + 3, y1 = scales.y.getPixelForValue(1100);
      ctx.save();
      ctx.strokeStyle = "#333"; ctx.lineWidth = 0.5;
      ctx.beginPath(); ctx.moveTo(px, y0); ctx.lineTo(px, y1); ctx.stroke();
      ctx.translate(px - 0.3, (y0 + y1) / 2);
      ctx.rotate(-Math.PI / 2);
      ctx.font = `2.6px ${FONT}`; ctx.fillStyle = "#222"; ctx.textAlign = "center"; ctx.textBaseline = "middle";
      ctx.fillText(trafficMarkerText, 0, 0);
      ctx.restore();
    },
  };
  const area = { pointRadius: 0, borderWidth: 0.8, tension: 0 };
  return {
    type: "line",
    data: {
      labels: trafficYears,
      datasets: [
        { ...area, data: trafficCars, fill: "origin", backgroundColor: "#cfe3f8", borderColor: "#a9cdf2" },
        { ...area, data: trafficMoto, fill: "-1", backgroundColor: "#d6f1d8", borderColor: "#a5dea9" },
        { ...area, data: trafficBikes, fill: "-1", backgroundColor: "#fbe4c3", borderColor: "#f8cf95" },
      ],
    },
    options: {
      ...baseOpts,
      layout: { padding: { left: 22, right: 36, top: 33, bottom: 12 } },
      plugins: noLegend,
      scales: {
        x: { grid: { color: "#f0f0f0", drawTicks: false }, border: { color: "#ccc" }, ticks: { autoSkip: false, maxRotation: 0, font: { size: 2.6 }, color: "#888", padding: 2 }, afterFit: fixH(7) },
        y: { stacked: true, min: 0, max: 3000, ticks: { stepSize: 500, font: { size: 2.6 }, color: "#888", padding: 2 }, grid: { color: "#f0f0f0", drawTicks: false }, border: { display: false }, title: { display: true, text: "Traffic (vehicles)", font: { size: 2.8, weight: "bold" }, color: "#333", padding: 0 }, afterFit: fixW(18) },
      },
    },
    plugins: [marker],
  };
}

// ---------- COMPONENTS ----------
function ChartCanvas({ x, y, w, h, make }: any) {
  const ref = useRef<HTMLCanvasElement>(null);
  useEffect(() => {
    const c = new Chart(ref.current as HTMLCanvasElement, make());
    return () => c.destroy();
  }, []);
  return (
    <div style={{ position: "absolute", left: x, top: y, width: w, height: h, background: "#fff" }}>
      <canvas ref={ref} width={w} height={h} style={{ width: w, height: h }} />
    </div>
  );
}

const Txt = ({ x, y, s, c = "#999", children }: any) => (
  <div style={{ position: "absolute", left: x, top: y, fontSize: s, color: c, lineHeight: 1, whiteSpace: "nowrap", fontFamily: FONT }}>{children}</div>
);

const LegendItem = ({ x, y, color, label, line }: any) => (
  <div style={{ position: "absolute", left: x, top: y, display: "flex", alignItems: "center", fontSize: 3, color: "#888", fontFamily: FONT, whiteSpace: "nowrap", lineHeight: 1 }}>
    <span style={{ display: "inline-block", width: line ? 4 : 3, height: line ? 0.7 : 2, background: color, borderRadius: line ? 0 : 0.6, marginRight: 1 }} />
    {label}
  </div>
);

const cellX = [1, 271, 541, 811];
const cellW = [267, 267, 267, 268];
const cellY = [2, 128, 253];
const cellH = [122, 121, 123];

const makers = [cfg1, cfg2, cfg3, cfg4, cfg5, cfg6, cfg7, cfg8, cfg9, cfg10, cfg11, cfg12];

export default function App() {
  return (
    <div style={{ position: "absolute", left: 0, top: 0, width: 1080, height: 377, background: "#e2e2e2", overflow: "hidden" }}>
      {makers.map((m, k) => {
        const col = k % 4, row = Math.floor(k / 4);
        return <ChartCanvas key={k} x={cellX[col]} y={cellY[row]} w={cellW[col]} h={cellH[row]} make={m} />;
      })}
      {/* titles */}
      <Txt x={313} y={13} s={5.6} c="#888">各省市国际化重点图</Txt>
      <Txt x={497} y={12} s={5} c="#bbb">≡</Txt>
      <Txt x={577} y={16} s={6.2}>柱形差折线图</Txt>
      <Txt x={823} y={10} s={7}>热力图</Txt>
      <Txt x={33} y={140} s={5.5} c="#888">多个坐标轴位置自定义</Txt>
      <Txt x={231} y={139} s={5} c="#bbb">≡</Txt>
      <Txt x={299} y={139} s={6.3} c="#aaa">矩形树图</Txt>
      <Txt x={581} y={138} s={6}>变化瀑布图</Txt>
      <Txt x={786} y={137} s={5} c="#bbb">≡</Txt>
      <Txt x={825} y={138} s={6.6} c="#aaa">股价图</Txt>
      <Txt x={20} y={261} s={3.8} c="#333">雨量流量关系图</Txt>
      <Txt x={292} y={264} s={7.2} c="#aaa">多维条形图</Txt>
      <Txt x={521} y={264} s={5} c="#bbb">≡</Txt>
      <Txt x={577} y={262} s={5.7} c="#aaa">X轴值自定义 + Y轴位置自定义</Txt>
      <Txt x={786} y={262} s={5} c="#bbb">≡</Txt>
      <Txt x={840} y={264} s={5.6} c="#aaa">提示框自定义 + 竖割线标注</Txt>
      <Txt x={1043} y={264} s={5} c="#bbb">≡</Txt>
      {/* chart 9 toolbox */}
      <Txt x={231} y={260} s={3.6} c="#5aaef2">↻ ▼ ● ◉</Txt>
      {/* legends */}
      <LegendItem x={93} y={153} color="#8cc5f5" label="Rainfall" />
      <LegendItem x={114} y={153} color="#7fd98f" label="Sea-Level Pressure" />
      <LegendItem x={148} y={153} color="#fbcd88" label="Temperature" />
      <LegendItem x={121} y={365} color="#5aa8ee" label="流量" line />
      <LegendItem x={133} y={365} color="#6fd07e" label="降雨量" line />
      <LegendItem x={666} y={276} color="#93c9f5" label="Male" />
      <LegendItem x={682} y={276} color="#a2e3ab" label="Female" />
      <LegendItem x={914} y={278} color="#a9cdf2" label="Cars" line />
      <LegendItem x={930} y={278} color="#a5dea9" label="Motorcycles" line />
      <LegendItem x={955} y={278} color="#f8cf95" label="Bicycles" line />
      {/* stock MA legend */}
      <div style={{ position: "absolute", left: 888, top: 136, display: "flex", fontFamily: FONT }}>
        {stockMALegend.map((t, i) => (
          <div key={i} style={{ border: "0.5px solid #555", fontSize: 2.6, color: "#333", padding: "0.6px 2px", lineHeight: 1, marginRight: 0.5, background: "#fff", boxShadow: "0.5px 0.5px 0 #999" }}>{t}</div>
        ))}
      </div>
    </div>
  );
}
